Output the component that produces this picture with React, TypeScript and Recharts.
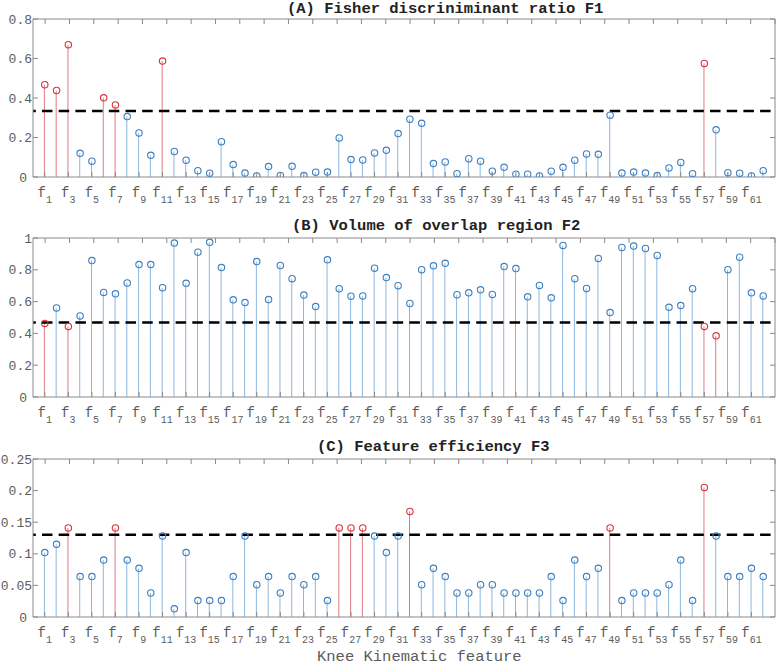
import React from "react";
import { Bar, Cell, ComposedChart, ReferenceLine, Scatter, XAxis, YAxis } from "recharts";

const features = [
  1, 2, 3, 4, 5, 6, 7, 8, 9, 10, 11, 12, 13, 14, 15, 16, 17, 18, 19, 20, 21,
  22, 23, 24, 25, 26, 27, 28, 29, 30, 31, 32, 33, 34, 35, 36, 37, 38, 39, 40, 41,
  42, 43, 44, 45, 46, 47, 48, 49, 50, 51, 52, 53, 54, 55, 56, 57, 58, 59, 60, 61, 62
];

const xTicks = [
  1, 3, 5, 7, 9, 11, 13, 15, 17, 19, 21, 23, 25, 27, 29, 31, 33, 35, 37, 39, 41,
  43, 45, 47, 49, 51, 53, 55, 57, 59, 61
];

// (A) Fisher discriminant ratio F1
const fisherRatio = [
  0.467, 0.438, 0.670, 0.120, 0.080, 0.401, 0.365, 0.306, 0.223, 0.110,
  0.587, 0.129, 0.085, 0.032, 0.019, 0.179, 0.063, 0.020, 0.005, 0.053,
  0.008, 0.054, 0.007, 0.024, 0.025, 0.198, 0.088, 0.086, 0.122, 0.135,
  0.220, 0.293, 0.272, 0.068, 0.076, 0.017, 0.093, 0.080, 0.029, 0.049,
  0.014, 0.014, 0.005, 0.029, 0.049, 0.085, 0.117, 0.115, 0.313, 0.020,
  0.025, 0.020, 0.007, 0.046, 0.074, 0.017, 0.575, 0.239, 0.022, 0.019,
  0.005, 0.032
];
const fisherCut = 0.334;
const fisherTicks = [0, 0.2, 0.4, 0.6, 0.8];

// (B) Volume of overlap region F2
const overlapVolume = [
  0.463, 0.560, 0.444, 0.510, 0.858, 0.658, 0.649, 0.717, 0.833, 0.833,
  0.687, 0.968, 0.715, 0.911, 0.973, 0.814, 0.611, 0.594, 0.852, 0.613,
  0.827, 0.744, 0.641, 0.569, 0.863, 0.681, 0.634, 0.636, 0.810, 0.751,
  0.700, 0.588, 0.801, 0.825, 0.841, 0.643, 0.655, 0.674, 0.645, 0.820,
  0.808, 0.630, 0.702, 0.624, 0.953, 0.744, 0.683, 0.871, 0.531, 0.941,
  0.949, 0.934, 0.890, 0.564, 0.575, 0.681, 0.444, 0.385, 0.801, 0.879,
  0.655, 0.636
];
const overlapCut = 0.469;
const overlapTicks = [0, 0.2, 0.4, 0.6, 0.8, 1];

// (C) Feature efficiency F3
const featureEfficiency = [
  0.102, 0.115, 0.141, 0.064, 0.064, 0.090, 0.141, 0.090, 0.077, 0.038,
  0.128, 0.013, 0.102, 0.026, 0.026, 0.026, 0.064, 0.128, 0.051, 0.064,
  0.038, 0.064, 0.051, 0.064, 0.026, 0.141, 0.141, 0.141, 0.128, 0.102,
  0.128, 0.167, 0.051, 0.077, 0.064, 0.038, 0.038, 0.051, 0.051, 0.038,
  0.038, 0.038, 0.038, 0.064, 0.026, 0.090, 0.064, 0.077, 0.141, 0.026,
  0.038, 0.038, 0.038, 0.051, 0.090, 0.026, 0.205, 0.128, 0.064, 0.064,
  0.077, 0.064
];
const efficiencyCut = 0.13;
const efficiencyTicks = [0, 0.05, 0.1, 0.15, 0.2, 0.25];

const MONO = "'Liberation Mono', 'DejaVu Sans Mono', monospace";
const AXIS = "#8a8a8a";
const TEXT = "#5c5c5c";
const BLUE_MARK = "#3d7fc0";
const BLUE_STEM = "#8cb7de";
const RED_MARK = "#d8333d";
const RED_STEM = "#df7c82";

const BottomTick = (props: any) => {
  const { x, y, payload } = props;
  return (
    <g>
      <line x1={x} x2={x} y1={y} y2={y - 5} stroke={AXIS} />
      <text x={x} y={y + 20} textAnchor="middle" fill={TEXT} fontFamily={MONO} fontSize={14}>
        f<tspan dy={6} fontSize={10}>{payload.value}</tspan>
      </text>
    </g>
  );
};

const TopTick = (props: any) => {
  const { x, y } = props;
  return <line x1={x} x2={x} y1={y} y2={y + 5} stroke={AXIS} />;
};

const LeftTick = (props: any) => {
  const { x, y, payload } = props;
  const pad = payload.value === 0 ? 6 : 1;
  return (
    <g>
      <line x1={x} x2={x + 5} y1={y} y2={y} stroke={AXIS} />
      <text x={x - pad} y={y + 4.5} textAnchor="end" fill={TEXT} fontFamily={MONO} fontSize={13}>
        {String(payload.value)}
      </text>
    </g>
  );
};

const RightTick = (props: any) => {
  const { x, y } = props;
  return <line x1={x - 5} x2={x} y1={y} y2={y} stroke={AXIS} />;
};

type PanelProps = {
  values: number[];
  cut: number;
  redBelow?: boolean;
  yTicks: number[];
  top: number;
  height: number;
};

function StemPanel({ values, cut, redBelow, yTicks, top, height }: PanelProps) {
  const data = features.map((f, i) => ({ x: f, v: values[i] }));
  const isRed = (v: number) => (redBelow ? v < cut : v > cut);
  const yMax = yTicks[yTicks.length - 1];

  return (
    <div style={{ position: "absolute", left: 0, top }}>
      <ComposedChart width={777} height={height} data={data} margin={{ top: 18, right: 1, bottom: 32, left: 32 }}>
        <XAxis
          dataKey="x"
          type="number"
          domain={[0, 63]}
          ticks={xTicks}
          interval={0}
          height={1}
          tickSize={0}
          tickMargin={0}
          tick={<BottomTick />}
          axisLine={{ stroke: AXIS }}
          tickLine={false}
          allowDataOverflow
        />
        <XAxis
          xAxisId="top"
          orientation="top"
          type="number"
          domain={[0, 63]}
          ticks={xTicks}
          interval={0}
          height={1}
          tickSize={0}
          tickMargin={0}
          tick={<TopTick />}
          axisLine={{ stroke: AXIS }}
          tickLine={false}
          allowDataOverflow
        />
        <YAxis
          type="number"
          domain={[0, yMax]}
          ticks={yTicks}
          interval={0}
          width={1}
          tickSize={0}
          tickMargin={0}
          tick={<LeftTick />}
          axisLine={{ stroke: AXIS }}
          tickLine={false}
          allowDataOverflow
        />
        <YAxis
          yAxisId="right"
          orientation="right"
          type="number"
          domain={[0, yMax]}
          ticks={yTicks}
          interval={0}
          width={1}
          tickSize={0}
          tickMargin={0}
          tick={<RightTick />}
          axisLine={{ stroke: AXIS }}
          tickLine={false}
          allowDataOverflow
        />
        <Bar dataKey="v" barSize={1} isAnimationActive={false}>
          {data.map((d) => (
            <Cell key={d.x} fill={isRed(d.v) ? RED_STEM : BLUE_STEM} />
          ))}
        </Bar>
        <ReferenceLine y={cut} stroke="#000" strokeWidth={2.5} strokeDasharray="10.5 6.2" strokeDashoffset={-9} />
        <Scatter
          dataKey="v"
          isAnimationActive={false}
          shape={(p: any) => (
            <circle
              cx={p.cx}
              cy={p.cy}
              r={3.2}
              fill="none"
              stroke={isRed(p.payload.v) ? RED_MARK : BLUE_MARK}
              strokeWidth={1.1}
            />
          )}
        />
      </ComposedChart>
    </div>
  );
}

export default function App() {
  return (
    <div style={{ position: "absolute", left: 0, top: 0, width: 777, height: 665, background: "#fff" }}>
      <StemPanel values={fisherRatio} cut={fisherCut} yTicks={fisherTicks} top={0} height={210} />
      <StemPanel values={overlapVolume} cut={overlapCut} redBelow yTicks={overlapTicks} top={219} height={211} />
      <StemPanel values={featureEfficiency} cut={efficiencyCut} yTicks={efficiencyTicks} top={440} height={210} />
      <svg width={777} height={665} style={{ position: "absolute", left: 0, top: 0, pointerEvents: "none" }}>
        <g fontFamily={MONO} fontSize={15.5} fontWeight="bold" fill="#222">
          <text x={287} y={13}>(A) Fisher discriniminant ratio F1</text>
          <text x={292} y={230}>(B) Volume of overlap region F2</text>
          <text x={317} y={451}>(C) Feature efficiency F3</text>
        </g>
        <text x={317} y={661} fontFamily={MONO} fontSize={15.5} fill={TEXT}>
          Knee Kinematic feature
        </text>
      </svg>
    </div>
  );
}
